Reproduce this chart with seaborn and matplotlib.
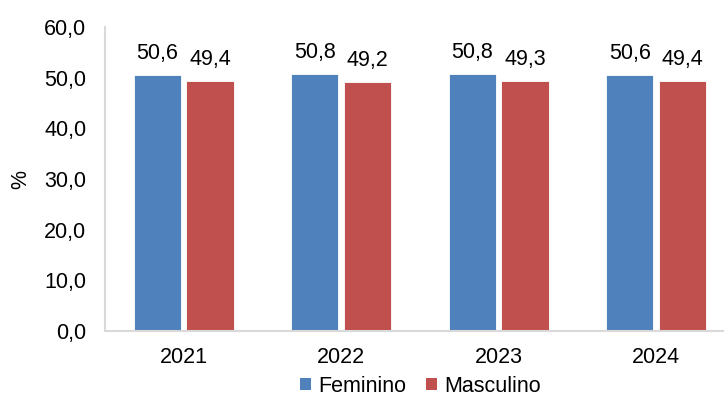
import matplotlib
matplotlib.use("Agg")
import matplotlib.pyplot as plt
import seaborn as sns
import pandas as pd
from matplotlib.patches import Patch

anos = ["2021", "2022", "2023", "2024"]
feminino = [50.6, 50.8, 50.8, 50.6]
masculino = [49.4, 49.2, 49.3, 49.4]
series = ["Feminino", "Masculino"]
cores = {"Feminino": "#4F81BD", "Masculino": "#C0504D"}
yticks = [0, 10, 20, 30, 40, 50, 60]

df = pd.DataFrame({
    "ano": anos * 2,
    "valor": feminino + masculino,
    "sexo": ["Feminino"] * len(anos) + ["Masculino"] * len(anos),
})

sns.set_style("white")
plt.rcParams["font.family"] = ["Liberation Sans", "DejaVu Sans"]
plt.rcParams["text.color"] = "black"
plt.rcParams["xtick.color"] = "black"
plt.rcParams["ytick.color"] = "black"
plt.rcParams["axes.labelcolor"] = "black"

fs = 15.5

fig = plt.figure(figsize=(7.24, 3.96), dpi=100)
ax = fig.add_axes([0.145, 0.1641, 0.870, 0.7677])

sns.barplot(data=df, x="ano", y="valor", hue="sexo", order=anos,
            hue_order=series, palette=cores, saturation=1, width=0.67,
            gap=0.105, edgecolor="white", linewidth=0.6, errorbar=None,
            ax=ax, legend=False)

for cont in ax.containers:
    ax.bar_label(cont, labels=[f"{v:.1f}".replace(".", ",") for v in cont.datavalues],
                 padding=8, fontsize=fs, color="black")

ax.set_ylim(0, 60)
ax.set_xlim(-0.5, 3.5)
ax.set_yticks(yticks)
ax.set_yticklabels([f"{t:.1f}".replace(".", ",") for t in yticks])
ax.tick_params(axis="y", length=0, pad=13.5, labelsize=fs)
ax.tick_params(axis="x", length=0, pad=11.5, labelsize=fs)
ax.set_xlabel("")
ax.set_ylabel("%", fontsize=fs, labelpad=9)

for s in ["top", "right"]:
    ax.spines[s].set_visible(False)
for s in ["left", "bottom"]:
    ax.spines[s].set_color("#D9D9D9")
    ax.spines[s].set_linewidth(1.5)

# legend centred under the plotting area
handles = [Patch(facecolor=cores[s], edgecolor="none", label=s) for s in series]
fig.legend(handles=handles, loc="center", bbox_to_anchor=(0.581, 0.024),
           ncol=2, frameon=False, fontsize=fs, handlelength=0.5,
           handleheight=0.5, handletextpad=0.33, columnspacing=0.93,
           borderpad=0)

fig.savefig("out.png", dpi=100)
